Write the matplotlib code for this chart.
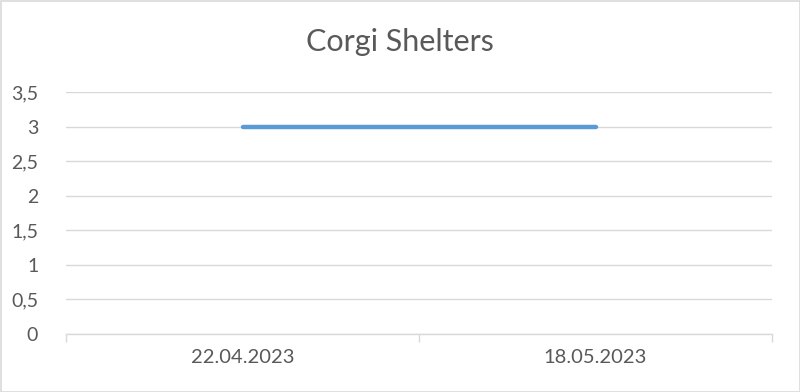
import matplotlib
matplotlib.use("Agg")
import matplotlib.pyplot as plt
from matplotlib.patches import Rectangle

categories = ["22.04.2023", "18.05.2023"]
values = [3, 3]
yticks = [0, 0.5, 1, 1.5, 2, 2.5, 3, 3.5]
ytick_labels = ["0", "0,5", "1", "1,5", "2", "2,5", "3", "3,5"]

plt.rcParams['font.family'] = ['Lato', 'DejaVu Sans']

fig = plt.figure(figsize=(8, 3.92), dpi=100)
ax = fig.add_axes([66/800, 1-334/392, (772-66)/800, (334-92)/392])

x = [i + 0.5 for i in range(len(categories))]
ax.plot(x, values, color="#5B9BD5", linewidth=3.2, solid_capstyle="round")

ax.set_xlim(0, len(categories))
ax.set_ylim(0, 3.5)
ax.set_yticks(yticks)
ax.set_yticklabels(ytick_labels)
ax.set_xticks(x)
ax.set_xticklabels(categories)
ax.set_xticks([0, 1, 2], minor=True)

ax.grid(axis='y', color="#D9D9D9", linewidth=1)
ax.set_axisbelow(True)
for s in ["top", "right", "left"]:
    ax.spines[s].set_visible(False)
ax.spines["bottom"].set_color("#D9D9D9")
ax.spines["bottom"].set_linewidth(1)

ax.tick_params(axis='y', length=0, pad=20, labelsize=14, labelcolor="#595959")
ax.tick_params(axis='x', which='major', length=0, pad=11, labelsize=14.5, labelcolor="#595959")
ax.tick_params(axis='x', which='minor', length=6, color="#D9D9D9", width=1)

fig.suptitle("Corgi Shelters", y=1-42/392, va='center', fontsize=22, color="#595959")

fig.patches.append(Rectangle((0.5/800, 0.5/392), 1-1/800, 1-1/392, transform=fig.transFigure,
                             fill=False, edgecolor="#D9D9D9", linewidth=1.2))

fig.savefig("out.png", dpi=100, facecolor="white")
